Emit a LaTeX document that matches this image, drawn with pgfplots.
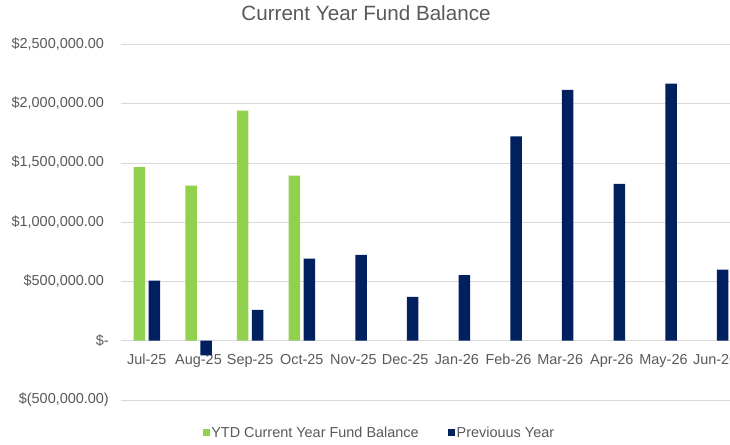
\documentclass[border=0pt]{standalone}
\usepackage{fontspec}
\setmainfont{Liberation Sans}
\usepackage{pgfplots}
\pgfplotsset{compat=1.18}
\definecolor{txt}{HTML}{595959}
\definecolor{gridc}{HTML}{D9D9D9}
\definecolor{cgreen}{HTML}{92D050}
\definecolor{cnavy}{HTML}{002060}
\begin{document}
\begin{tikzpicture}[trim left=0bp, trim right=730bp]
\path (0,0) rectangle (730bp,445bp);
\begin{scope}
\clip (0,0) rectangle (730bp,445bp);
\begin{axis}[
  at={(121bp,45bp)}, anchor=south west,
  scale only axis, width=620bp, height=355.5bp,
  xmin=-0.5, xmax=11.5, ymin=-500000, ymax=2500000,
  axis line style={draw=none},
  major tick length=0pt,
  ybar=3.5bp, bar width=11.5bp,
  xtick={0,1,2,3,4,5,6,7,8,9,10,11},
  xticklabels={Jul-25,Aug-25,Sep-25,Oct-25,Nov-25,Dec-25,Jan-26,Feb-26,Mar-26,Apr-26,May-26,Jun-26},
  ytick={-500000,0,500000,1000000,1500000,2000000,2500000},
  yticklabels={{\$(500,000.00)},{\$-\hspace{12bp}},{\$500,000.00\phantom{)}},{\$1,000,000.00\phantom{)}},{\$1,500,000.00\phantom{)}},{\$2,000,000.00\phantom{)}},{\$2,500,000.00\phantom{)}}},
  scaled y ticks=false,
  ymajorgrids, major grid style={gridc, line width=0.9bp},
  tick label style={font=\fontsize{14.5}{16}\selectfont, text=txt, inner sep=0pt},
  xticklabel style={anchor=base, yshift=36bp},
  yticklabel style={anchor=east, xshift=-12bp},
  legend columns=2,
  legend style={at={(0.4165,-0.0928)}, anchor=center, draw=none, fill=none,
    font=\fontsize{14.5}{16}\selectfont, text=txt,
    nodes={inner sep=1.5bp},
    /tikz/every even column/.append style={column sep=28bp}},
  legend image code/.code={\fill[#1] (0bp,-3.5bp) rectangle (7bp,3.5bp);},
]
\addplot[fill=cgreen, draw=none] coordinates {(0,1466000) (1,1309000) (2,1941000) (3,1393000)};
\addlegendentry{YTD Current Year Fund Balance}
\addplot[fill=cnavy, draw=none] coordinates {(0,508000) (1,-124000) (2,261000) (3,694000) (4,725000) (5,371000) (6,553000) (7,1725000) (8,2118000) (9,1323000) (10,2169000) (11,601000)};
\addlegendentry{Previouus Year}
\end{axis}
\end{scope}
\node[anchor=base, text=txt, font=\fontsize{20.7}{24}\selectfont] at (366bp,424bp) {Current Year Fund Balance};
\end{tikzpicture}
\end{document}
